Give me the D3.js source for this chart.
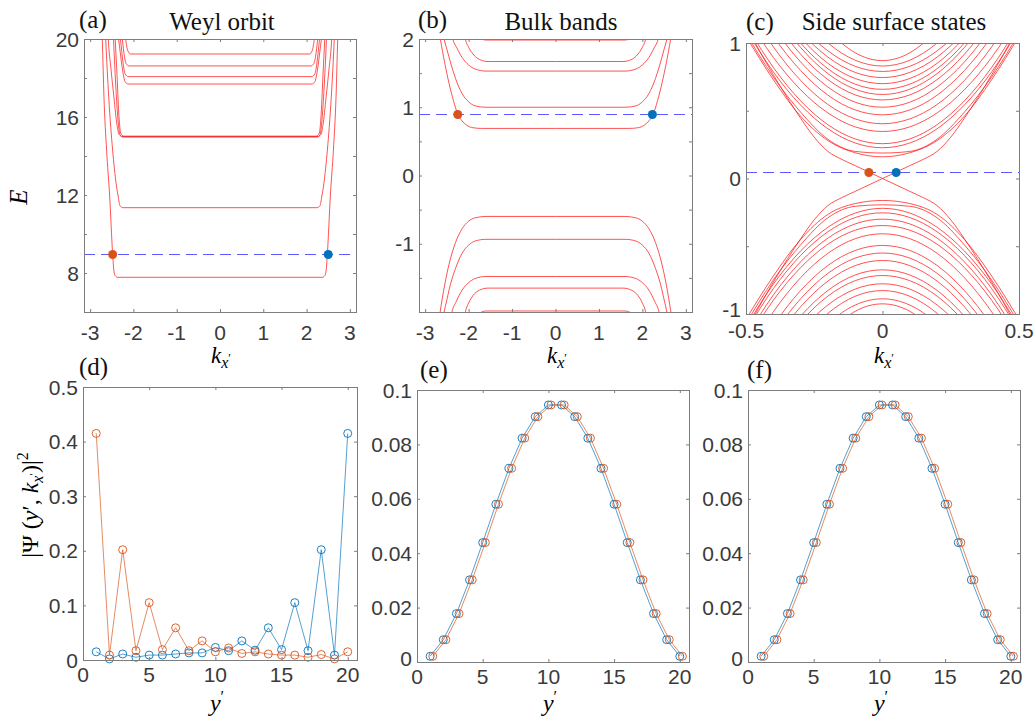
<!DOCTYPE html>
<html>
<head>
<meta charset="utf-8">
<script src="https://d3js.org/d3.v7.min.js"></script>
<style>
  body { margin: 0; background: #fff; }
  svg { display: block; }
</style>
</head>
<body>
<script>
// ---- panel (a): Weyl orbit bands, half curves [k, E] for k >= 0 (mirrored)
var weylBands = [
    [[0,7.78],[2.36,7.78],[2.42,7.86],[2.45,8.1],[2.48,8.97],[2.55,12],[2.62,14.3],[2.68,17],[2.72,20],[2.74,21]],
    [[0,11.35],[2.24,11.35],[2.31,11.45],[2.35,11.9],[2.4,12.6],[2.48,14.3],[2.57,17],[2.64,20],[2.66,21]],
    [[0,15.0],[2.26,15.0],[2.33,15.1],[2.38,15.6],[2.45,17],[2.52,18.5],[2.58,20],[2.6,21]],
    [[0,14.97],[2.24,14.97],[2.31,15.1],[2.35,15.7],[2.4,17.3],[2.46,20],[2.48,21]],
    [[0,15.02],[2.22,15.02],[2.29,15.15],[2.33,15.9],[2.38,18.2],[2.42,20],[2.44,21]],
    [[0,17.69],[2.12,17.69],[2.19,17.8],[2.25,18.4],[2.32,19.6],[2.37,20.5]],
    [[0,18.07],[2.12,18.07],[2.19,18.2],[2.24,18.8],[2.3,20.0],[2.33,20.6]],
    [[0,18.62],[2.1,18.62],[2.17,18.75],[2.22,19.3],[2.27,20.3]],
    [[0,19.23],[2.07,19.23],[2.13,19.4],[2.18,20.0],[2.21,20.5]]
];
var weylLevel = 8.97;
var weylDots = [-2.48, 2.5];

// ---- panel (b): bulk bands, half curves [k, E]
var bulkBands = [
    [[0,0.69],[1.7,0.69],[1.9,0.70],[2.05,0.74],[2.15,0.8],[2.25,0.9],[2.35,1.1],[2.45,1.35],[2.55,1.65],[2.65,2.0],[2.7,2.2]],
    [[0,1.0],[1.6,1.0],[1.85,1.02],[2.0,1.08],[2.15,1.2],[2.3,1.42],[2.4,1.62],[2.5,1.85],[2.57,2.02],[2.62,2.2]],
    [[0,1.53],[1.6,1.53],[1.85,1.56],[2.0,1.62],[2.15,1.73],[2.27,1.87],[2.37,2.02],[2.42,2.2]],
    [[0,1.67],[1.55,1.67],[1.75,1.7],[1.9,1.78],[2.0,1.88],[2.08,2.02],[2.12,2.2]],
    [[0,1.985],[1.6,1.985],[1.7,2.0],[1.8,2.05]],
    [[0,-0.60],[1.6,-0.60],[1.85,-0.62],[2.0,-0.67],[2.15,-0.78],[2.3,-0.98],[2.45,-1.3],[2.55,-1.6],[2.66,-2.02],[2.7,-2.2]],
    [[0,-0.935],[1.6,-0.935],[1.85,-0.96],[2.0,-1.02],[2.15,-1.14],[2.3,-1.36],[2.42,-1.6],[2.5,-1.82],[2.57,-2.02],[2.62,-2.2]],
    [[0,-1.48],[1.6,-1.48],[1.85,-1.51],[2.0,-1.57],[2.15,-1.68],[2.28,-1.84],[2.39,-2.02],[2.44,-2.2]],
    [[0,-1.65],[1.55,-1.65],[1.75,-1.68],[1.9,-1.76],[2.0,-1.87],[2.08,-2.02],[2.12,-2.2]],
    [[0,-1.985],[1.6,-1.985],[1.7,-2.0],[1.8,-2.05]]
];
var bulkLevel = 0.9;
var bulkDots = [-2.25, 2.23];

// ---- panel (c): side surface states, E at kGrid (mirrored)
var sideKGrid = [0, 0.1, 0.2, 0.3, 0.4, 0.5];
var sideCond = [
    [0.87, 0.928, 1.10, 1.39, 1.8, 2.3],
    [0.83, 0.873, 1.0, 1.21, 1.51, 1.89],
    [0.79, 0.828, 0.942, 1.13, 1.40, 1.74],
    [0.745, 0.783, 0.896, 1.084, 1.35, 1.69],
    [0.70, 0.738, 0.85, 1.04, 1.30, 1.64],
    [0.658, 0.696, 0.81, 1.0, 1.27, 1.61],
    [0.62, 0.659, 0.774, 0.967, 1.236, 1.58],
    [0.58, 0.617, 0.73, 0.917, 1.18, 1.515],
    [0.526, 0.563, 0.675, 0.86, 1.12, 1.456],
    [0.47, 0.506, 0.615, 0.797, 1.05, 1.38],
    [0.404, 0.44, 0.546, 0.724, 0.972, 1.29],
    [0.347, 0.381, 0.484, 0.655, 0.894, 1.2],
    [0.257, 0.292, 0.397, 0.573, 0.82, 1.135],
    [0.227, 0.262, 0.367, 0.542, 0.787, 1.1],
    [0.188, 0.20, 0.29, 0.49, 0.75, 1.07],
    [0.16, 0.19, 0.28, 0.46, 0.73, 1.05]
];
var sideVal = [
    [-0.925, -0.98, -1.15, -1.42, -1.8, -2.3],
    [-0.888, -0.934, -1.072, -1.3, -1.62, -2.04],
    [-0.827, -0.869, -0.995, -1.205, -1.5, -1.88],
    [-0.777, -0.816, -0.933, -1.128, -1.4, -1.75],
    [-0.716, -0.754, -0.868, -1.058, -1.32, -1.67],
    [-0.674, -0.712, -0.826, -1.016, -1.28, -1.62],
    [-0.605, -0.643, -0.757, -0.947, -1.213, -1.555],
    [-0.55, -0.5875, -0.7, -0.8875, -1.15, -1.49],
    [-0.494, -0.531, -0.642, -0.827, -1.086, -1.419],
    [-0.408, -0.444, -0.552, -0.732, -0.984, -1.308],
    [-0.347, -0.3815, -0.485, -0.6575, -0.899, -1.21],
    [-0.30, -0.335, -0.44, -0.615, -0.86, -1.175],
    [-0.253, -0.288, -0.393, -0.568, -0.813, -1.128],
    [-0.22, -0.255, -0.36, -0.535, -0.78, -1.095],
    [-0.194, -0.205, -0.29, -0.49, -0.75, -1.07],
    [-0.162, -0.185, -0.265, -0.45, -0.72, -1.04]
];
var surfK = [-0.5,-0.45,-0.4,-0.35,-0.3,-0.25,-0.2,-0.15,-0.1,0,0.1,0.15,0.2,0.25,0.3,0.35,0.4,0.45,0.5];
var surfA = [-1.13,-0.94,-0.765,-0.6,-0.445,-0.305,-0.2,-0.142,-0.095,0,0.095,0.142,0.2,0.305,0.445,0.6,0.765,0.94,1.13];
var surfB = [1.13,0.94,0.765,0.6,0.445,0.305,0.2,0.142,0.095,0,-0.095,-0.142,-0.2,-0.305,-0.445,-0.6,-0.765,-0.94,-1.13];
var sideLevel = 0.049;
var sideDots = [-0.05, 0.05];

// ---- panels (d)-(f): |Psi|^2 vs y'
var ySites = [1,2,3,4,5,6,7,8,9,10,11,12,13,14,15,16,17,18,19,20];
var ySitesShift = [1.2,2.2,3.2,4.2,5.2,6.2,7.2,8.2,9.2,10.2,11.2,12.2,13.2,14.2,15.2,16.2,17.2,18.2,19.2,20.2];
var weylRed  = [0.415,0.009,0.202,0.017,0.105,0.019,0.059,0.017,0.035,0.015,0.022,0.012,0.015,0.011,0.009,0.009,0.005,0.010,0.002,0.015];
var weylBlue = [0.015,0.002,0.011,0.005,0.009,0.009,0.011,0.013,0.013,0.023,0.017,0.035,0.018,0.059,0.019,0.105,0.017,0.202,0.009,0.415];
var bulkBlue = [0.0021,0.0082,0.0178,0.0302,0.0439,0.058,0.0712,0.0823,0.0902,0.0945,0.0945,0.0902,0.0823,0.0712,0.058,0.0439,0.0302,0.0178,0.0082,0.0021];
var bulkRed  = [0.0021,0.0082,0.0178,0.0302,0.0439,0.058,0.0712,0.0823,0.0902,0.0945,0.0945,0.0902,0.0823,0.0712,0.058,0.0439,0.0302,0.0178,0.0082,0.0021];
var surfBlue = [0.0021,0.0082,0.0178,0.0302,0.0439,0.058,0.0712,0.0823,0.0902,0.0945,0.0945,0.0902,0.0823,0.0712,0.058,0.0439,0.0302,0.0178,0.0082,0.0021];
var surfRed  = [0.0021,0.0082,0.0178,0.0302,0.0439,0.058,0.0712,0.0823,0.0902,0.0945,0.0945,0.0902,0.0823,0.0712,0.058,0.0439,0.0302,0.0178,0.0082,0.0021];

// ticks
var kTicks = [-3,-2,-1,0,1,2,3];
var weylYTicks = [6,8,10,12,14,16,18,20], weylYLabels = [8,12,16,20];
var bulkYTicks = [-2,-1.5,-1,-0.5,0,0.5,1,1.5,2], bulkYLabels = [-1,0,1,2];
var sideXTicks = [-0.5,0,0.5];
var sideYTicks = [-1,-0.5,0,0.5,1], sideYLabels = [-1,0,1];
var siteTicks = [0,5,10,15,20];
var psiYTicksD = [0,0.1,0.2,0.3,0.4,0.5];
var psiYTicksE = [0,0.02,0.04,0.06,0.08,0.1];

var ORANGE = "#D95319", BLUE = "#0072BD", BAND = "#ff1a1a", DASH = "#5a5aff", AXIS = "#7d7d7d";
var tickFont = "Liberation Sans, Arial, sans-serif", serif = "Liberation Serif, Times New Roman, serif";

var svg = d3.select("body").append("svg").attr("width", 1035).attr("height", 724);
var clipN = 0;

function panel(box, xd, yd) {
    var x = d3.scaleLinear().domain(xd).range([box.x, box.x + box.w]);
    var y = d3.scaleLinear().domain(yd).range([box.y + box.h, box.y]);
    var id = "clip" + (clipN++);
    svg.append("clipPath").attr("id", id).append("rect")
        .attr("x", box.x).attr("y", box.y).attr("width", box.w).attr("height", box.h);
    var g = svg.append("g");
    var plot = g.append("g").attr("clip-path", "url(#" + id + ")");
    return {x: x, y: y, g: g, plot: plot, box: box};
}

function frame(p, xt, xl, yt, yl, xLabY, lift) {
    var b = p.box, g = p.g;
    var axes = [
        [d3.axisBottom(p.x).tickValues(xt), "translate(0," + (b.y + b.h) + ")"],
        [d3.axisTop(p.x).tickValues(xt), "translate(0," + b.y + ")"],
        [d3.axisLeft(p.y).tickValues(yt), "translate(" + b.x + ",0)"],
        [d3.axisRight(p.y).tickValues(yt), "translate(" + (b.x + b.w) + ",0)"]
    ];
    axes.forEach(function (a) {
        var ax = g.append("g").attr("transform", a[1])
            .call(a[0].tickSize(-3).tickFormat(""));
        ax.select(".domain").remove();
        ax.selectAll("line").attr("stroke", AXIS);
    });
    g.append("rect").attr("x", b.x + 0.5).attr("y", b.y + 0.5)
        .attr("width", b.w).attr("height", b.h)
        .attr("fill", "none").attr("stroke", AXIS).attr("stroke-width", 1);
    g.selectAll(".xl").data(xl).enter().append("text")
        .attr("x", function (d) { return p.x(d); }).attr("y", xLabY)
        .attr("text-anchor", "middle").attr("font-family", tickFont)
        .attr("font-size", 21).attr("fill", "#3a3a3a").text(function (d) { return String(d); });
    // lowest label sits a little above the corner, as in the original
    g.selectAll(".yl").data(yl).enter().append("text")
        .attr("x", b.x - 5).attr("y", function (d) { return Math.min(p.y(d), b.y + b.h - lift); }).attr("dy", "0.36em")
        .attr("text-anchor", "end").attr("font-family", tickFont)
        .attr("font-size", 21).attr("fill", "#3a3a3a").text(function (d) { return String(d); });
}

function mirror(half) {
    var left = half.slice(1).reverse().map(function (d) { return [-d[0], d[1]]; });
    return left.concat(half);
}

function bandLine(p) {
    return d3.line().x(function (d) { return p.x(d[0]); })
        .y(function (d) { return p.y(d[1]); }).curve(d3.curveMonotoneX);
}

function drawBands(p, bands) {
    p.plot.selectAll(".band" + clipN).data(bands).enter().append("path")
        .attr("d", bandLine(p)).attr("fill", "none")
        .attr("stroke", BAND).attr("stroke-width", 0.75);
}

function levelAndDots(p, level, dots) {
    var ly = Math.round(p.y(level)) + 0.5;
    p.plot.append("line").attr("x1", p.box.x).attr("x2", p.box.x + p.box.w)
        .attr("y1", ly).attr("y2", ly)
        .attr("stroke", DASH).attr("stroke-width", 1).attr("stroke-dasharray", "11,6");
    p.g.selectAll(".dot").data(dots).enter().append("circle")
        .attr("cx", function (d) { return p.x(d); }).attr("cy", ly).attr("r", 4.5)
        .attr("fill", function (d, i) { return i === 0 ? ORANGE : BLUE; });
}

function kLabel(cx) {
    var t = svg.append("text").attr("x", cx).attr("y", 363).attr("text-anchor", "middle")
        .attr("font-family", serif).attr("font-style", "italic").attr("font-size", 23);
    t.append("tspan").text("k");
    t.append("tspan").attr("font-size", 16).attr("dy", 5).text("x");
    t.append("tspan").attr("font-size", 12).attr("dy", -6).attr("font-style", "normal").text("\u2032");
}

function yPrimeLabel(cx) {
    var t = svg.append("text").attr("x", cx).attr("y", 711).attr("text-anchor", "middle")
        .attr("font-family", serif).attr("font-size", 24);
    t.append("tspan").attr("font-style", "italic").text("y");
    t.append("tspan").attr("font-size", 16).attr("dy", -9).text("\u2032");
}

function title(x, y, txt, size, anchor) {
    svg.append("text").attr("x", x).attr("y", y).attr("text-anchor", anchor || "start")
        .attr("font-family", serif).attr("font-size", size).attr("fill", "#111").text(txt);
}

// ---------- (a)
var pa = panel({x: 84, y: 39, w: 272, h: 273}, [-Math.PI, Math.PI], [6, 20]);
drawBands(pa, weylBands.map(mirror));
levelAndDots(pa, weylLevel, weylDots);
frame(pa, kTicks, kTicks, weylYTicks, weylYLabels, 340, 0);
kLabel(221);
svg.append("text").attr("transform", "translate(27,197) rotate(-90)").attr("text-anchor", "middle")
    .attr("font-family", serif).attr("font-style", "italic").attr("font-size", 25).text("E");
title(79, 28, "(a)", 25);
title(222, 30, "Weyl orbit", 25, "middle");

// ---------- (b)
var pb = panel({x: 419, y: 39, w: 273, h: 273}, [-Math.PI, Math.PI], [-2, 2]);
drawBands(pb, bulkBands.map(mirror));
levelAndDots(pb, bulkLevel, bulkDots);
frame(pb, kTicks, kTicks, bulkYTicks, bulkYLabels, 340, 0);
kLabel(557);
title(418, 28, "(b)", 25);
title(561, 30, "Bulk bands", 25, "middle");

// ---------- (c)
var pc = panel({x: 746, y: 43, w: 273, h: 271}, [-0.5, 0.5], [-1, 1]);
var sideHalf = function (vals) { return sideKGrid.map(function (k, i) { return [k, vals[i]]; }); };
drawBands(pc, sideCond.concat(sideVal).map(function (v) { return mirror(sideHalf(v)); }));
drawBands(pc, [surfK.map(function (k, i) { return [k, surfA[i]]; }),
               surfK.map(function (k, i) { return [k, surfB[i]]; })]);
levelAndDots(pc, sideLevel, sideDots);
frame(pc, sideXTicks, sideXTicks, sideYTicks, sideYLabels, 338, 5);
kLabel(884);
title(746, 30, "(c)", 25);
title(894, 30, "Side surface states", 25, "middle");

// ---------- bottom row
function psiPanel(box, yd, yTicks, blueX, blue, redX, red, lab, labX, lift) {
    var p = panel(box, [0, 20.7], yd);
    var line = d3.line().x(function (d) { return p.x(d[0]); }).y(function (d) { return p.y(d[1]); });
    [[blueX, blue, BLUE], [redX, red, ORANGE]].forEach(function (s) {
        var pts = s[0].map(function (x, i) { return [x, s[1][i]]; });
        p.g.append("path").attr("d", line(pts)).attr("fill", "none")
            .attr("stroke", s[2]).attr("stroke-width", 0.8).attr("opacity", 0.85);
        p.g.selectAll(".m" + s[2].slice(1)).data(pts).enter().append("circle")
            .attr("cx", function (d) { return p.x(d[0]); }).attr("cy", function (d) { return p.y(d[1]); })
            .attr("r", 4).attr("fill", "none").attr("stroke", s[2]).attr("stroke-width", 0.9);
    });
    frame(p, siteTicks, siteTicks, yTicks, yTicks, box.y + box.h + 22, lift);
    title(labX, box.y - 12, lab, 25);
    yPrimeLabel(box.x + box.w / 2 - 3);
    return p;
}

psiPanel({x: 83, y: 387, w: 274, h: 273}, [0, 0.5], psiYTicksD, ySites, weylBlue, ySites, weylRed, "(d)", 79, 0);
psiPanel({x: 417, y: 390, w: 272, h: 272}, [0, 0.1], psiYTicksE, ySites, bulkBlue, ySitesShift, bulkRed, "(e)", 420, 4);
psiPanel({x: 748, y: 390, w: 272, h: 272}, [0, 0.1], psiYTicksE, ySites, surfBlue, ySitesShift, surfRed, "(f)", 747, 4);

// y label of bottom row
var yl = svg.append("text").attr("transform", "translate(38,505) rotate(-90)").attr("text-anchor", "middle")
    .attr("font-family", serif).attr("font-size", 24);
yl.append("tspan").text("|\u03A8 (");
yl.append("tspan").attr("font-style", "italic").text("y");
yl.append("tspan").text("\u2032, ");
yl.append("tspan").attr("font-style", "italic").text("k");
yl.append("tspan").attr("font-style", "italic").attr("font-size", 16).attr("dy", 5).text("x");
yl.append("tspan").attr("font-size", 11).attr("dy", -6).text("\u2032");
yl.append("tspan").attr("dy", 1).text(")|");
yl.append("tspan").attr("font-size", 16).attr("dy", -10).text("2");
</script>
</body>
</html>
